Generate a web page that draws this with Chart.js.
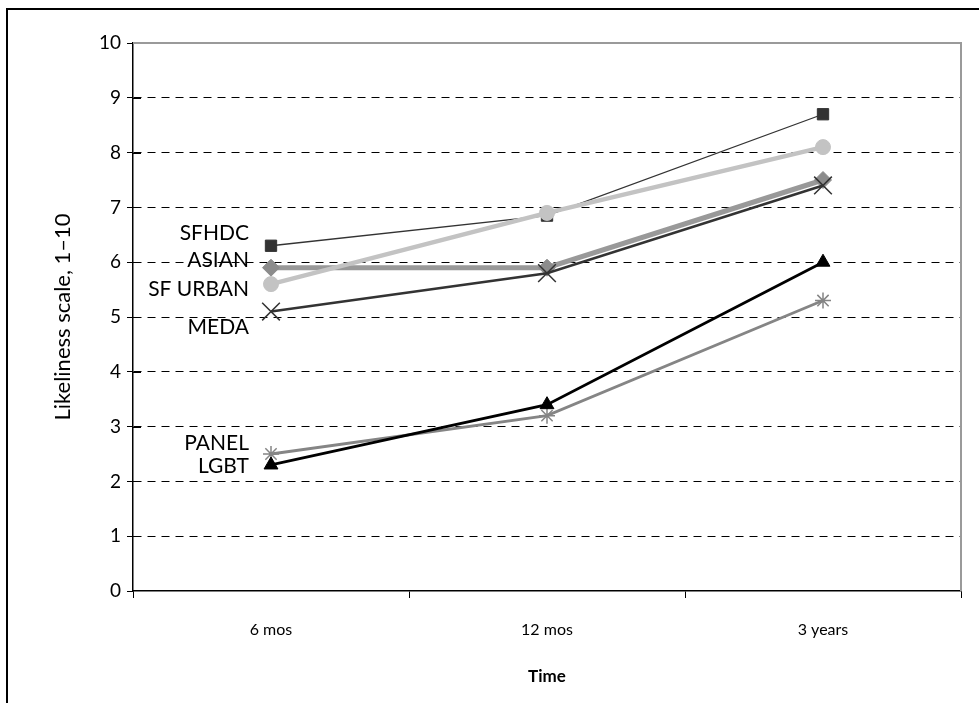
<!DOCTYPE html>
<html>
<head>
<meta charset="utf-8">
<script src="https://cdn.jsdelivr.net/npm/chart.js@4/dist/chart.umd.min.js"></script>
<style>
  html, body { margin: 0; padding: 0; background: #fff; }
  #wrap { position: relative; width: 979px; height: 703px; }
  #frame { position: absolute; left: 6px; top: 8px; right: -4px; bottom: -4px;
           border-top: 2px solid #000; border-left: 2px solid #000; pointer-events: none; }
  canvas { position: absolute; left: 0; top: 0; }
</style>
</head>
<body>
<div id="wrap">
  <canvas id="chart" width="979" height="703"></canvas>
  <div id="frame"></div>
</div>
<script>
// Survey periods
const periods = ['6 mos', '12 mos', '3 years'];

// Mean likeliness ratings (1–10) per group
const sfhdc   = [6.3, 6.85, 8.7];
const asian   = [5.9, 5.9, 7.5];
const sfUrban = [5.6, 6.9, 8.1];
const meda    = [5.1, 5.8, 7.4];
const lgbt    = [2.3, 3.4, 6.0];
const panel   = [2.5, 3.2, 5.3];

// Group names written beside the first point of each line
const groupNames  = ['SFHDC', 'ASIAN', 'SF URBAN', 'MEDA', 'PANEL', 'LGBT'];
// Scale level at which each group name sits
const groupLevels = [6.53, 6.04, 5.51, 4.82, 2.70, 2.28];

const yTicks = [0, 1, 2, 3, 4, 5, 6, 7, 8, 9, 10];

const FONT = 'Lato, "Open Sans", sans-serif';

function series(label, data, color, width, style, radius, markColor, markBorder) {
  return {
    label, data,
    borderColor: color,
    borderWidth: width,
    backgroundColor: markColor,
    pointBackgroundColor: markColor,
    pointBorderColor: markColor,
    pointBorderWidth: markBorder,
    pointStyle: style,
    pointRadius: radius,
    pointHoverRadius: radius,
    tension: 0,
    fill: false
  };
}

// Plot frame: grey top and right edges, inward half of the y tick marks
const framePlugin = {
  id: 'frame',
  beforeDatasetsDraw(chart) {
    const { ctx, chartArea: a, scales: { y } } = chart;
    ctx.save();
    ctx.strokeStyle = '#9a9a9a';
    ctx.lineWidth = 2;
    ctx.beginPath();
    ctx.moveTo(a.left, a.top);
    ctx.lineTo(a.right, a.top);
    ctx.lineTo(a.right, a.bottom);
    ctx.stroke();
    ctx.strokeStyle = '#000';
    ctx.lineWidth = 1;
    yTicks.forEach(v => {
      if (v === 0 || v === 10) return;
      const py = Math.round(y.getPixelForValue(v)) + 0.5;
      ctx.beginPath();
      ctx.moveTo(a.left, py);
      ctx.lineTo(a.left + 8, py);
      ctx.stroke();
    });
    ctx.restore();
  }
};

// Group names to the left of the first category
const namesPlugin = {
  id: 'names',
  afterDatasetsDraw(chart) {
    const { ctx, scales: { x, y } } = chart;
    const right = x.getPixelForValue(0) - 22;
    ctx.save();
    ctx.fillStyle = '#000';
    ctx.font = '21px ' + FONT;
    ctx.textAlign = 'right';
    ctx.textBaseline = 'middle';
    groupNames.forEach((n, i) => {
      ctx.fillText(n, right, y.getPixelForValue(groupLevels[i]));
    });
    ctx.restore();
  }
};

new Chart(document.getElementById('chart'), {
  type: 'line',
  data: {
    labels: periods,
    datasets: [
      series('SF URBAN', sfUrban, '#c3c3c3', 4.5, 'circle', 7.5, '#c3c3c3', 1),
      series('MEDA', meda, '#333333', 2.5, 'crossRot', 12.5, '#333333', 1.5),
      series('SFHDC', sfhdc, '#333333', 1.3, 'rect', 8, '#333333', 1),
      series('ASIAN', asian, '#999999', 5, 'rectRot', 8.5, '#8c8c8c', 1),
      series('LGBT', lgbt, '#000000', 2.8, 'triangle', 8, '#000000', 1),
      series('PANEL', panel, '#858585', 2.8, 'star', 8, '#858585', 1.5)
    ]
  },
  options: {
    responsive: false,
    animation: false,
    layout: { padding: { top: 43, right: 18, left: 0, bottom: 0 } },
    plugins: {
      legend: { display: false },
      tooltip: { enabled: false }
    },
    scales: {
      x: {
        offset: true,
        afterFit(scale) { scale.height = 112; },
        grid: {
          offset: true,
          drawOnChartArea: false,
          color: '#000',
          tickColor: '#000',
          tickLength: 7,
          lineWidth: 1
        },
        border: { display: true, color: '#000', width: 1.5 },
        ticks: {
          color: '#000',
          padding: 22,
          font: { family: FONT, size: 16 },
          maxRotation: 0
        },
        title: {
          display: true,
          text: 'Time',
          color: '#000',
          font: { family: FONT, size: 17, weight: 'bold' },
          padding: { top: 0, bottom: 16 }
        }
      },
      y: {
        min: 0,
        max: 10,
        afterFit(scale) { scale.width = 133; },
        afterBuildTicks(scale) { scale.ticks = yTicks.map(v => ({ value: v })); },
        grid: {
          color: c => (c.tick && (c.tick.value === 0 || c.tick.value === 10)) ? 'rgba(0,0,0,0)' : '#000',
          tickColor: '#000',
          tickBorderDash: [],
          tickLength: 6,
          lineWidth: 1
        },
        border: { display: true, color: '#000', width: 1.5, dash: [8, 6] },
        ticks: {
          color: '#000',
          padding: 6,
          font: { family: FONT, size: 19 },
          callback: v => String(v)
        },
        title: {
          display: true,
          text: 'Likeliness scale, 1–10',
          color: '#000',
          font: { family: FONT, size: 22 },
          padding: { top: 50, bottom: 0 }
        }
      }
    }
  },
  plugins: [framePlugin, namesPlugin]
});
</script>
</body>
</html>
